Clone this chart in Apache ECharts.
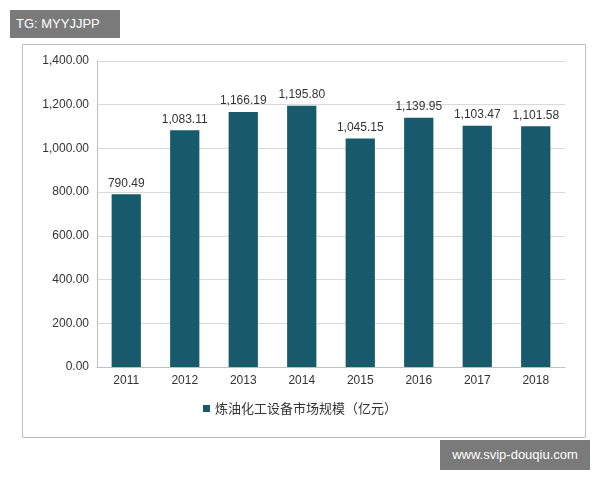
<!DOCTYPE html>
<html><head><meta charset="utf-8">
<script src="https://cdn.jsdelivr.net/npm/echarts@6/dist/echarts.min.js"></script>
<style>body{margin:0;background:#fff}#c{width:600px;height:480px;position:relative}
.tag{position:absolute;font-family:"Liberation Sans",Arial,sans-serif;color:#fff;background:#7a7a7a;font-size:13px}
</style></head><body>
<div id="c"></div>
<div class="tag" style="left:10px;top:10px;width:110px;height:28px;line-height:28px;padding-left:6px;box-sizing:border-box">TG: MYYJJPP</div>
<div class="tag" style="left:440px;top:440px;width:150px;height:30px;line-height:30px;text-align:center">www.svip-douqiu.com</div>
<script>
const categories=['2011','2012','2013','2014','2015','2016','2017','2018'];
const values=[790.49,1083.11,1166.19,1195.80,1045.15,1139.95,1103.47,1101.58];
const seriesName='炼油化工设备市场规模（亿元）';
const chart=echarts.init(document.getElementById('c'));
const fmt=v=>v.toLocaleString('en-US',{minimumFractionDigits:2,maximumFractionDigits:2});
chart.setOption({
 animation:false,
 textStyle:{fontFamily:'"Liberation Sans",Arial,"Noto Sans CJK SC",sans-serif'},
 graphic:[{type:'rect',left:20,top:42,shape:{width:563,height:393},style:{fill:'none',stroke:'#bfbfbf',lineWidth:1},z:-1}],
 grid:{left:97,right:35,top:61,bottom:113},
 legend:{bottom:60,left:'center',itemWidth:7,itemHeight:7,icon:'rect',textStyle:{fontSize:13,color:'#333',fontFamily:'"Noto Sans CJK SC",sans-serif'}},
 xAxis:{type:'category',data:categories,axisTick:{show:false},axisLine:{lineStyle:{color:'#bfbfbf'}},axisLabel:{color:'#333',fontSize:12}},
 yAxis:{type:'value',min:0,max:1400,interval:200,axisLine:{show:true,lineStyle:{color:'#bfbfbf'}},splitLine:{lineStyle:{color:'#d9d9d9'}},axisLabel:{color:'#333',fontSize:12,formatter:fmt}},
 series:[{name:seriesName,type:'bar',data:values,barWidth:'50%',itemStyle:{color:'#175a6c'},label:{show:true,position:'top',color:'#333',fontSize:12,formatter:p=>fmt(p.value)}}]
});
</script></body></html>
